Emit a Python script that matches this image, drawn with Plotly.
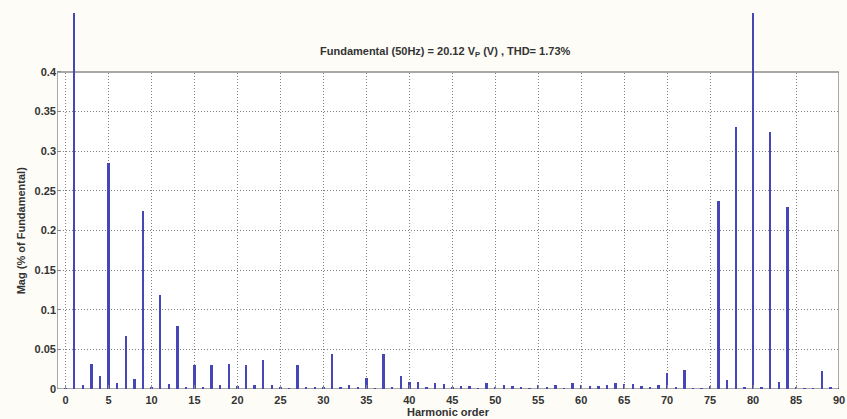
import plotly.graph_objects as go

# Harmonic orders 0..90
harmonic_order = list(range(0, 91))

# Magnitude (% of fundamental)
magnitude = [
    0.001,  # 0 (DC)
    100.0,  # 1 fundamental
    0.005, 0.031, 0.017, 0.285, 0.007, 0.067, 0.013, 0.224, 0.002,   # 2-10
    0.119, 0.006, 0.079, 0.002, 0.030, 0.002, 0.030, 0.005, 0.031, 0.004,  # 11-20
    0.030, 0.005, 0.036, 0.005, 0.003, 0.001, 0.030, 0.002, 0.002, 0.002,  # 21-30
    0.0445, 0.002, 0.005, 0.002, 0.0135, 0.001, 0.0437, 0.003, 0.016, 0.009,  # 31-40
    0.0085, 0.003, 0.0076, 0.0065, 0.002, 0.004, 0.004, 0.001, 0.007, 0.003,  # 41-50
    0.0055, 0.004, 0.002, 0.001, 0.0055, 0.003, 0.005, 0.001, 0.007, 0.0055,  # 51-60
    0.004, 0.004, 0.0055, 0.008, 0.006, 0.006, 0.004, 0.002, 0.005, 0.020,  # 61-70
    0.002, 0.0235, 0.001, 0.001, 0.004, 0.237, 0.011, 0.331, 0.002, 0.62,  # 71-80
    0.002, 0.3245, 0.009, 0.230, 0.002, 0.001, 0.001, 0.0225, 0.002, 0.001,  # 81-90
]

y_tick_vals = [0, 0.05, 0.1, 0.15, 0.2, 0.25, 0.3, 0.35, 0.4]
y_tick_text = ["0", "0.05", "0.1", "0.15", "0.2", "0.25", "0.3", "0.35", "0.4"]
x_tick_vals = list(range(0, 91, 5))

X_MIN, X_MAX = -1, 90
Y_MAX_BOX = 0.4
Y_MAX_VIEW = 0.4744

title_text = "Fundamental (50Hz) = 20.12 V<sub>P</sub> (V) , THD= 1.73%"

BAR_COLOR = "#4646b4"
GRID_COLOR = "#808080"
FRAME_COLOR = "#8c8c8c"
PAPER = "#fdfcf6"
FONT = "Arial, Liberation Sans, Helvetica, sans-serif"
TXT = "#333333"
GRID_DASH = "1px,2px"

fig = go.Figure()
fig.add_trace(go.Bar(
    x=harmonic_order,
    y=magnitude,
    width=0.28,
    marker=dict(color=BAR_COLOR, line=dict(width=0)),
    hoverinfo="x+y",
))

fig.update_layout(
    width=847, height=419,
    margin=dict(l=57, r=8, t=13, b=30, autoexpand=False),
    paper_bgcolor=PAPER,
    plot_bgcolor="#ffffff",
    showlegend=False,
    bargap=0,
    font=dict(family=FONT, size=11, color=TXT),
    xaxis=dict(
        range=[X_MIN, X_MAX],
        tickvals=x_tick_vals,
        automargin=False,
        showgrid=True, gridcolor=GRID_COLOR, griddash=GRID_DASH, gridwidth=1,
        zeroline=False, showline=False,
        ticks="inside", ticklen=4, tickcolor=FRAME_COLOR,
        ticklabelstandoff=3,
        tickfont=dict(family=FONT, size=11, weight="bold", color=TXT),
        title=dict(text="Harmonic order", standoff=0,
                   font=dict(family=FONT, size=11, weight="bold", color=TXT)),
    ),
    yaxis=dict(
        range=[0, Y_MAX_VIEW],
        tickvals=y_tick_vals, ticktext=y_tick_text,
        automargin=False,
        showgrid=True, gridcolor=GRID_COLOR, griddash=GRID_DASH, gridwidth=1,
        zeroline=False, showline=False,
        ticks="inside", ticklen=4, tickcolor=FRAME_COLOR,
        tickfont=dict(family=FONT, size=11, weight="bold", color=TXT),
    ),
    shapes=[
        # paper-coloured region above the axes box (hides grid there)
        dict(type="rect", xref="x", yref="y", x0=X_MIN - 1, x1=X_MAX + 1,
             y0=Y_MAX_BOX, y1=Y_MAX_VIEW + 0.01,
             line=dict(width=0), fillcolor=PAPER, layer="between"),
        # axes box
        dict(type="rect", xref="x", yref="y", x0=X_MIN, x1=X_MAX, y0=0, y1=Y_MAX_BOX,
             line=dict(color=FRAME_COLOR, width=1.5), fillcolor="rgba(0,0,0,0)",
             layer="between"),
    ],
    annotations=[
        dict(text=title_text, xref="paper", yref="paper", x=0.496, y=0.896,
             showarrow=False, xanchor="center", yanchor="middle",
             font=dict(family=FONT, size=11, weight="bold", color=TXT)),
        dict(text="Mag (% of Fundamental)", xref="paper", yref="y",
             x=-0.045, y=0.2, textangle=-90, showarrow=False,
             xanchor="center", yanchor="middle",
             font=dict(family=FONT, size=11, weight="bold", color=TXT)),
    ],
)

fig.write_html(
    "out.html",
    config={"displayModeBar": False},
    post_script="document.body.style.margin='0';document.body.style.background='%s';" % PAPER,
)
